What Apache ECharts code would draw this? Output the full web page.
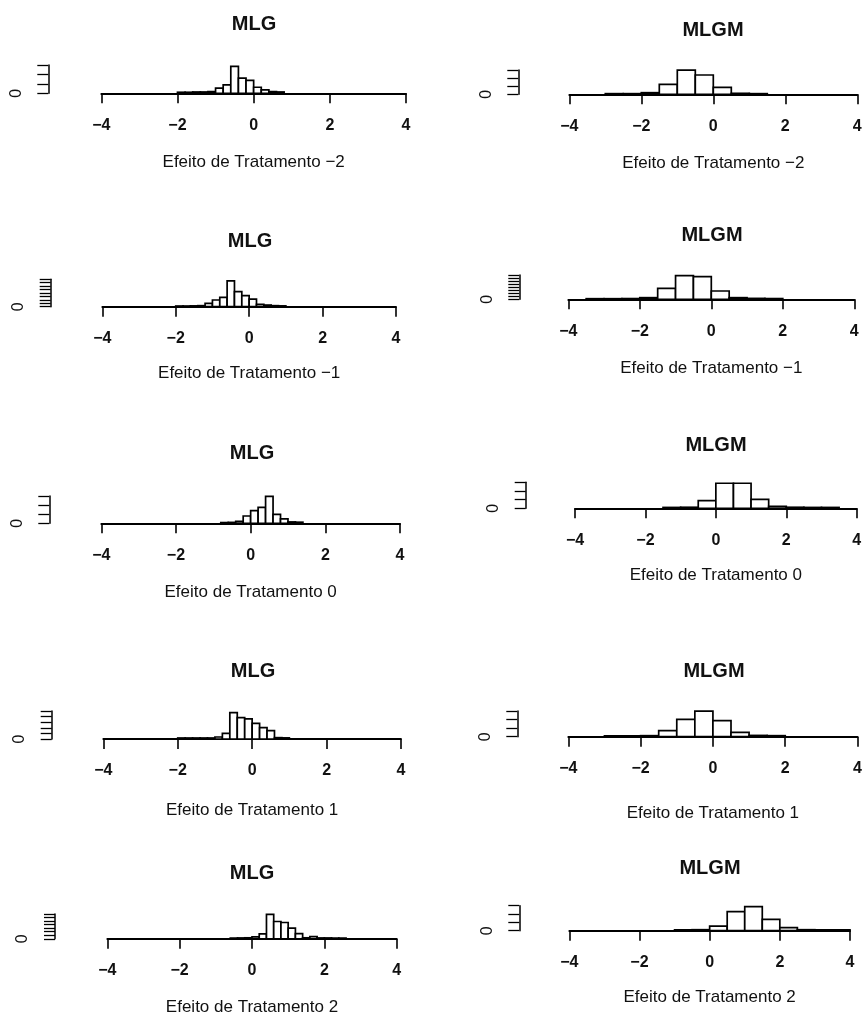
<!DOCTYPE html>
<html><head><meta charset="utf-8">
<script src="https://cdn.jsdelivr.net/npm/echarts@6/dist/echarts.min.js"></script>
<style>html,body{margin:0;padding:0;background:#fff}#c{width:865px;height:1017px}</style>
</head><body><div id="c"></div>
<script>
// ---------- data ----------
const models = ['MLG', 'MLGM'];
const treatments = ['−2', '−1', '0', '1', '2'];
const xTicks = [-4, -2, 0, 2, 4];

const mlgBinWidth = 0.2;
const mlgmBinWidth = 0.5;

// first bin edge of each histogram (treatment -2 .. 2)
const mlgStart  = [-2, -2, -0.8, -2, -0.6];
const mlgmStart = [-3, -3.5, -1.5, -3, -1];

// MLG counts (bin width 0.2)
const mlgTm2 = [11, 11, 14, 14, 18, 54, 89, 286, 161, 136, 64, 36, 18, 14];
const mlgTm1 = [10, 10, 12, 15, 49, 98, 137, 376, 220, 161, 112, 34, 24, 15, 12];
const mlgT0  = [8, 10, 22, 80, 139, 176, 296, 99, 48, 15, 12];
const mlgT1  = [9, 9, 9, 9, 9, 18, 51, 235, 191, 179, 140, 101, 75, 12, 10];
const mlgT2  = [10, 12, 14, 28, 69, 345, 244, 230, 152, 74, 14, 30, 12, 12, 10, 10];

// MLGM counts (bin width 0.5)
const mlgmTm2 = [8, 8, 20, 123, 298, 238, 86, 12, 8];
const mlgmTm1 = [10, 10, 12, 27, 181, 389, 373, 137, 27, 15, 12];
const mlgmT0  = [10, 12, 89, 289, 289, 104, 23, 12, 10, 10];
const mlgmT1  = [10, 10, 12, 70, 203, 298, 187, 51, 15, 12];
const mlgmT2  = [10, 12, 56, 228, 288, 136, 36, 12, 10, 10];

// y axis ticks (step and last tick) per histogram
const mlgYStep  = [100, 50, 100, 50, 50];
const mlgYTop   = [300, 400, 300, 250, 350];
const mlgmYStep = [100, 50, 100, 100, 100];
const mlgmYTop  = [300, 400, 300, 300, 300];

const mlgCounts  = [mlgTm2, mlgTm1, mlgT0, mlgT1, mlgT2];
const mlgmCounts = [mlgmTm2, mlgmTm1, mlgmT0, mlgmT1, mlgmT2];

// ---------- layout (pixels) ----------
// [xLeft(-4), xRight(4), topTickY, baselineY, yAxisX, titleX, titleY, nameY]
const layout = [
  [101.3, 406.0, 65.0, 93.3, 48.3, 254, 24, 162],
  [569.3, 857.3, 70.0, 94.3, 518.3, 713, 30, 163],
  [102.3, 396.0, 279.3, 306.7, 50.7, 250, 241, 373],
  [568.3, 854.3, 275.0, 299.3, 519.3, 712, 235, 368],
  [101.3, 400.0, 496.0, 523.3, 49.3, 252, 453, 592],
  [575.0, 856.7, 482.3, 508.3, 525.7, 716, 445, 575],
  [103.3, 401.0, 711.0, 739.0, 51.7, 253, 671, 810],
  [568.3, 859.3, 711.0, 736.7, 517.3, 714, 671, 813],
  [107.3, 396.7, 914.0, 939.3, 55.0, 252, 873, 1008],
  [569.3, 850.0, 905.7, 930.7, 519.3, 710, 868, 997]
];

const FONT = "'Liberation Sans', Arial, Helvetica, sans-serif";
const minus = s => String(s).replace('-', '−');

const grids = [], xAxes = [], yAxes = [], series = [], titles = [];

for (let t = 0; t < treatments.length; t++) {
  for (let m = 0; m < models.length; m++) {
    const i = t * 2 + m;
    const L = layout[i];
    const counts = m === 0 ? mlgCounts[t] : mlgmCounts[t];
    const start = m === 0 ? mlgStart[t] : mlgmStart[t];
    const bw = m === 0 ? mlgBinWidth : mlgmBinWidth;
    const yStep = m === 0 ? mlgYStep[t] : mlgmYStep[t];
    const yTop = m === 0 ? mlgYTop[t] : mlgmYTop[t];
    const data = counts.map((c, k) => [+(start + k * bw).toFixed(2), +(start + (k + 1) * bw).toFixed(2), c]);

    grids.push({ left: L[0], top: L[2], width: L[1] - L[0], height: L[3] - L[2], containLabel: false });
    xAxes.push({
      gridIndex: i, type: 'value', min: xTicks[0], max: xTicks[xTicks.length - 1], interval: 2,
      axisLine: { show: true, onZero: false, lineStyle: { color: '#000', width: 1.8 } },
      axisTick: { show: true, length: 10, lineStyle: { color: '#000', width: 1.6 } },
      axisLabel: { formatter: v => minus(v), margin: 24, color: '#111', fontSize: 16, fontWeight: 'bold', fontFamily: FONT },
      splitLine: { show: false },
      name: 'Efeito de Tratamento ' + treatments[t],
      nameLocation: 'middle',
      nameGap: L[7] - L[3],
      nameTextStyle: { color: '#111', fontSize: 17, fontFamily: FONT, verticalAlign: 'middle' }
    });
    yAxes.push({
      gridIndex: i, type: 'value', min: 0, max: yTop, interval: yStep,
      offset: L[0] - L[4],
      axisLine: { show: true, onZero: false, lineStyle: { color: '#000', width: 1.5 } },
      axisTick: { show: true, length: 11, lineStyle: { color: '#000', width: 1.3 } },
      axisLabel: { formatter: v => (v === 0 ? '0' : ''), rotate: 90, margin: 24, color: '#111', fontSize: 16, fontFamily: FONT },
      splitLine: { show: false }
    });
    series.push({
      type: 'custom', xAxisIndex: i, yAxisIndex: i, clip: false,
      encode: { x: [0, 1], y: 2 },
      data: data,
      renderItem: (params, api) => {
        const p0 = api.coord([api.value(0), 0]);
        const p1 = api.coord([api.value(1), api.value(2)]);
        return {
          type: 'rect',
          shape: { x: p0[0], y: p1[1], width: p1[0] - p0[0], height: p0[1] - p1[1] },
          style: { fill: '#fff', stroke: '#000', lineWidth: 1.7 }
        };
      }
    });
    titles.push({
      text: models[m], left: L[5], top: L[6], padding: 0,
      textAlign: 'center', textVerticalAlign: 'middle',
      textStyle: { fontSize: 20, fontWeight: 'bold', color: '#111', fontFamily: FONT }
    });
  }
}

const chart = echarts.init(document.getElementById('c'));
chart.setOption({
  animation: false,
  backgroundColor: '#fff',
  title: titles,
  grid: grids,
  xAxis: xAxes,
  yAxis: yAxes,
  series: series
});
</script></body></html>
